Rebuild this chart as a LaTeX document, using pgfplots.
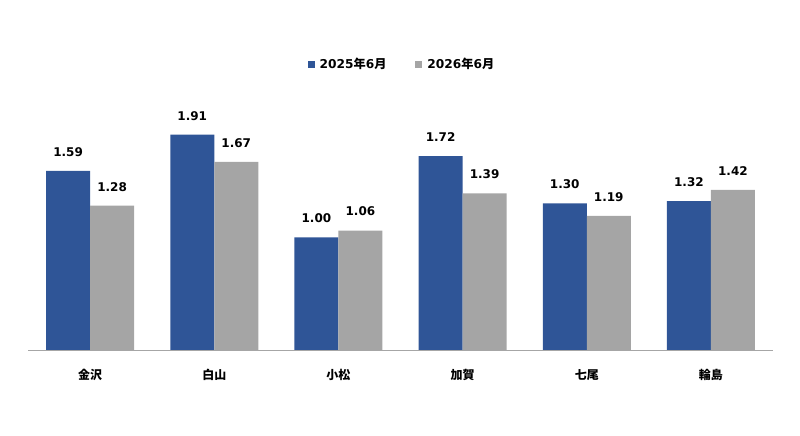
\documentclass[border=0pt]{standalone}
\usepackage{fontspec}
\setmainfont{DejaVu Sans}
\newfontfamily\jp{Noto Sans CJK JP}
\usepackage{pgfplots}
\pgfplotsset{compat=1.18}
\definecolor{cblue}{HTML}{2F5597}
\definecolor{cgray}{HTML}{A5A5A5}
\definecolor{caxis}{HTML}{A6A6A6}
\begin{document}
\begin{tikzpicture}
\useasboundingbox (0,0) rectangle (800bp,436bp);
\begin{axis}[
  at={(28bp,86bp)}, anchor=south west,
  scale only axis,
  width=745bp, height=281.75bp,
  ybar=0pt, bar width=44bp,
  xmin=-0.5, xmax=5.5, ymin=0, ymax=2.5,
  axis x line*=bottom, axis y line=none,
  x axis line style={draw=caxis, line width=0.8bp, -},
  xtick={0,1,2,3,4,5},
  xticklabels={金沢,白山,小松,加賀,七尾,輪島},
  xtick style={draw=none},
  x tick label style={font=\jp\bfseries\fontsize{12bp}{14bp}\selectfont, anchor=center, yshift=-21bp},
  nodes near coords={\pgfmathprintnumber[fixed,fixed zerofill,precision=2,assume math mode=true]{\pgfplotspointmeta}},
  every node near coord/.append style={font=\bfseries\fontsize{12bp}{14bp}\selectfont, anchor=center, yshift=19bp, black},
  legend columns=2,
  legend style={draw=none, fill=none, at={(0.502,1.015)}, anchor=center,
    font=\bfseries\fontsize{12.2bp}{14bp}\selectfont,
    /tikz/every even column/.append style={column sep=27bp}},
  legend image code/.code={\fill[#1] (0bp,-3.5bp) rectangle (7bp,3.5bp); \path (10bp,0bp);},
]
\addplot[fill=cblue, draw=none] coordinates {(0,1.59) (1,1.91) (2,1.00) (3,1.72) (4,1.30) (5,1.32)};
\addplot[fill=cgray, draw=none] coordinates {(0,1.28) (1,1.67) (2,1.06) (3,1.39) (4,1.19) (5,1.42)};
\legend{2025{\jp\bfseries 年}6{\jp\bfseries 月}, 2026{\jp\bfseries 年}6{\jp\bfseries 月}}
\end{axis}
\end{tikzpicture}
\end{document}
